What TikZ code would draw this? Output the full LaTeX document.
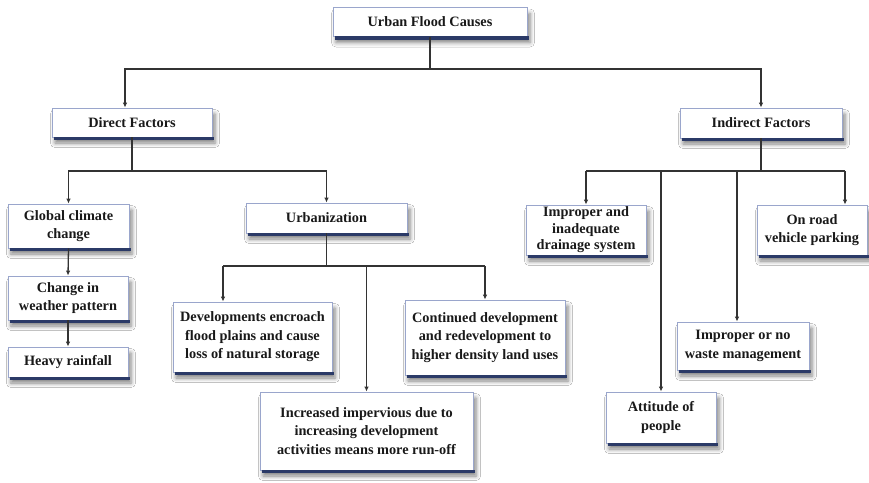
\documentclass[tikz,border=0pt]{standalone}
\usepackage{fontspec}
\setmainfont{Liberation Serif}
\usetikzlibrary{arrows.meta,shadows.blur,calc}
\definecolor{boxline}{HTML}{9AA6CC}
\definecolor{navybar}{HTML}{2B3A67}
\definecolor{connc}{HTML}{333333}
\tikzset{
  fbox/.style={draw=boxline, line width=0.8pt, fill=white, align=center,
    text=black!90, inner sep=1pt,
    font=\bfseries\fontsize{14.3}{18.5}\selectfont,
    blur shadow={shadow xshift=3pt, shadow yshift=-6pt, shadow blur radius=4.5pt, shadow opacity=50}},
  barline/.style={draw=navybar, line width=3.5pt},
  conn/.style={draw=connc, line width=1.3pt},
  arr/.style={conn, -{Latex[length=5pt,width=4.5pt]}}
}
\begin{document}
\begin{tikzpicture}[x=1pt,y={(0pt,-1pt)}]
\useasboundingbox[fill=white] (0,0) rectangle (869,482);

% boxes
\node[fbox, minimum width=194pt, minimum height=29pt] (top) at (430,22) {Urban Flood Causes};
\node[fbox, minimum width=160pt, minimum height=29pt] (direct) at (132,122.5) {Direct Factors};
\node[fbox, minimum width=162pt, minimum height=30pt] (indirect) at (761,123) {Indirect Factors};
\node[fbox, minimum width=121pt, minimum height=44pt] (global) at (68.5,226) {Global climate\\change};
\node[fbox, minimum width=120pt, minimum height=44pt] (weather) at (68,298) {Change in\\weather pattern};
\node[fbox, minimum width=120pt, minimum height=30pt] (heavy) at (68,362) {Heavy rainfall};
\node[fbox, minimum width=161pt, minimum height=30pt] (urban) at (326.5,218) {Urbanization};
\node[fbox, minimum width=159pt, minimum height=70pt] (develop) at (252.5,337) {Developments encroach\\flood plains and cause\\loss of natural storage};
\node[fbox, minimum width=160pt, minimum height=75pt] (continued) at (485,337.5) {Continued development\\and redevelopment to\\higher density land uses};
\node[fbox, minimum width=213pt, minimum height=78pt] (increased) at (366.5,431) {Increased impervious due to\\increasing development\\activities means more run-off};
\node[fbox, minimum width=120pt, minimum height=50pt, font=\bfseries\fontsize{14.3}{16.5}\selectfont] (drainage) at (586,230) {Improper and\\inadequate\\drainage system};
\node[fbox, minimum width=110pt, minimum height=50pt] (onroad) at (812,230) {On road\\vehicle parking};
\node[fbox, minimum width=132pt, minimum height=48pt] (waste) at (743,346) {Improper or no\\waste management};
\node[fbox, minimum width=110pt, minimum height=51pt] (attitude) at (661,417.5) {Attitude of\\people};

% navy bottom bars
\foreach \n in {top,direct,indirect,global,weather,heavy,urban,develop,continued,increased,drainage,onroad,waste,attitude}
  \draw[barline] ([xshift=2pt,yshift=-1pt]\n.south west) -- ([xshift=2pt,yshift=-1pt]\n.south east);

% bus levels and offset drop points
\coordinate (busA) at (0,69);
\coordinate (busB) at (0,171);
\coordinate (busC) at (0,266);
\coordinate (busD) at (0,171);
\coordinate (dftop) at ([xshift=-7pt]direct.north);
\coordinate (dvtop) at ([xshift=-29.5pt]develop.north);
\coordinate (wstop) at ([xshift=-6pt]waste.north);
\coordinate (ontop) at ([xshift=33pt]onroad.north);

% top level
\draw[conn] (top.south) -- (top.south |- busA);
\draw[arr] (top.south |- busA) -| (dftop);
\draw[arr] (top.south |- busA) -| (indirect.north);

% direct factors
\draw[conn] (direct.south) -- (direct.south |- busB);
\draw[arr] (direct.south |- busB) -| (global.north);
\draw[arr] (direct.south |- busB) -| (urban.north);
\draw[arr] (global.south) -- (weather.north);
\draw[arr] (weather.south) -- (heavy.north);

% urbanization
\draw[conn] (urban.south) -- (urban.south |- busC);
\draw[conn] (dvtop |- busC) -- (continued.north |- busC);
\draw[arr] (dvtop |- busC) -- (dvtop);
\draw[arr] (continued.north |- busC) -- (continued.north);
\draw[arr] (increased.north |- busC) -- (increased.north);

% indirect factors
\draw[conn] (indirect.south) -- (indirect.south |- busD);
\draw[conn] (drainage.north |- busD) -- (ontop |- busD);
\draw[arr] (drainage.north |- busD) -- (drainage.north);
\draw[arr] (attitude.north |- busD) -- (attitude.north);
\draw[arr] (wstop |- busD) -- (wstop);
\draw[arr] (ontop |- busD) -- (ontop);
\end{tikzpicture}
\end{document}
